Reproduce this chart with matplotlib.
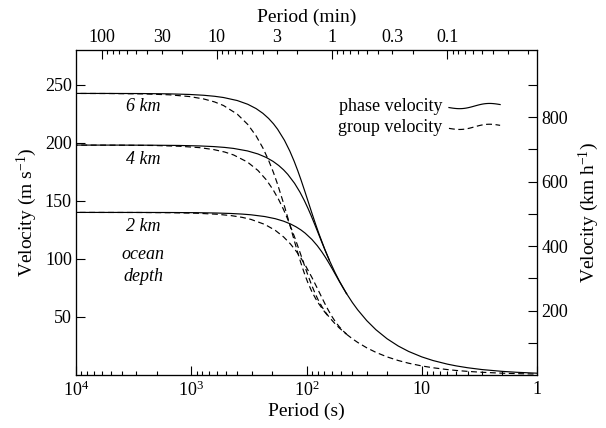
import numpy as np
import matplotlib
matplotlib.use("Agg")
import matplotlib.pyplot as plt
from matplotlib.ticker import FixedLocator, FixedFormatter, NullFormatter, FuncFormatter, LogLocator

plt.rcParams['font.family'] = ['Liberation Serif', 'DejaVu Serif']
plt.rcParams['mathtext.fontset'] = 'custom'
plt.rcParams['mathtext.rm'] = 'Liberation Serif'
plt.rcParams['mathtext.it'] = 'Liberation Serif:italic'
plt.rcParams['mathtext.bf'] = 'Liberation Serif:bold'

# ---------------- data (period in s, velocity in m/s) ----------------
period_2km = [11214, 2991, 1496, 898.6, 600.3, 451.5, 362.6, 303.5, 230.1, 186.6, 158.0, 137.9,
              123.1, 111.7, 102.8, 89.70, 80.58, 73.88, 68.72, 64.61, 59.75, 55.95, 51.92, 48.00, 44.87]
phase_2km = [140.07, 140.05, 139.99, 139.84, 139.55, 139.15, 138.64, 138.03, 136.51, 134.66, 132.52, 130.15,
             127.61, 124.96, 122.24, 116.75, 111.39, 106.31, 101.59, 97.25, 91.44, 86.39, 80.67, 74.80, 70.01]
group_2km = [140.07, 140.01, 139.82, 139.38, 138.51, 137.33, 135.84, 134.06, 129.74, 124.62, 118.94, 112.92,
             106.78, 100.71, 94.82, 84.00, 74.73, 67.05, 60.79, 55.75, 49.95, 45.67, 41.54, 37.88, 35.19]

period_4km = [15859, 4229.9, 2115.9, 1270.9, 849.0, 638.6, 512.7, 429.2, 325.5, 263.9, 223.5, 195.1,
              174.1, 158.0, 145.4, 126.85, 113.96, 104.48, 97.19, 91.37, 84.50, 79.12, 73.43, 67.88,
              63.46, 56.74, 51.80, 45.0]
phase_4km = [198.09, 198.06, 197.97, 197.76, 197.35, 196.79, 196.07, 195.20, 193.06, 190.44, 187.41, 184.06,
             180.47, 176.72, 172.87, 165.11, 157.53, 150.35, 143.67, 137.53, 129.31, 122.18, 114.09, 105.79,
             99.01, 88.58, 80.87, 70.26]
group_4km = [198.09, 198.00, 197.73, 197.10, 195.89, 194.21, 192.10, 189.58, 183.48, 176.24, 168.20, 159.69,
             151.01, 142.42, 134.10, 118.80, 105.69, 94.82, 85.98, 78.84, 70.63, 64.59, 58.74, 53.57,
             49.77, 44.33, 40.44, 35.13]

period_6km = [19424, 5180.5, 2591.4, 1556.5, 1039.8, 782.1, 628.0, 525.6, 398.6, 323.3, 273.7, 238.9,
              213.2, 193.5, 178.1, 155.36, 139.57, 127.96, 119.03, 111.91, 103.50, 96.90, 89.94, 83.13,
              77.72, 69.50, 63.44]
phase_6km = [242.61, 242.57, 242.47, 242.21, 241.71, 241.01, 240.13, 239.07, 236.45, 233.24, 229.53, 225.43,
             221.03, 216.44, 211.73, 202.21, 192.93, 184.14, 175.96, 168.44, 158.37, 149.63, 139.72, 129.56,
             121.26, 108.49, 99.04]
group_6km = [242.61, 242.50, 242.18, 241.41, 239.92, 237.86, 235.27, 232.19, 224.72, 215.85, 206.00, 195.58,
             184.95, 174.43, 164.24, 145.50, 129.44, 116.13, 105.30, 96.56, 86.51, 79.11, 71.94, 65.61,
             60.96, 54.29, 49.53]

# deep-water branch shared by all depths
period_deep = [45, 40, 36, 30, 25, 20, 16, 13, 10, 8, 6, 5, 4, 3, 2, 1.5, 1]
phase_deep = [70.26, 62.45, 56.21, 46.84, 39.03, 31.23, 24.98, 20.30, 15.61, 12.49, 9.37, 7.81, 6.25,
              4.68, 3.12, 2.34, 1.56]
group_deep = [35.13, 31.23, 28.10, 23.42, 19.52, 15.61, 12.49, 10.15, 7.81, 6.25, 4.68, 3.90, 3.12,
              2.34, 1.56, 1.17, 0.78]

x_ticks = [1e4, 1e3, 1e2, 10, 1]
x_tick_labels = ['$10^4$', '$10^3$', '$10^2$', '10', '1']
top_major = [100, 10, 1, 0.1]
top_major_labels = ['100', '10', '1', '0.1']
top_minor_labeled = {30: '30', 3: '3', 0.3: '0.3'}
y_ticks = [50, 100, 150, 200, 250]
y_right_major = [200, 400, 600, 800]
y_right_minor = [100, 300, 500, 700, 900]

depth_labels = ['6 km', '4 km', '2 km', 'ocean', 'depth']
depth_label_y = [231, 186, 128, 104, 85]

# ---------------- figure ----------------
fig = plt.figure(figsize=(6.06, 4.28), dpi=100)
W, H = 606, 428
L, R, T, B = 76, 537, 50, 375
ax = fig.add_axes([L / W, 1 - B / H, (R - L) / W, (B - T) / H])
ax.set_xscale('log')
ax.set_xlim(1e4, 1)
ax.set_ylim(0, 280)

lw = 0.85
solid = dict(color='black', lw=lw, ls='-')
dashed = dict(color='black', lw=lw, ls=(0, (5, 3)))

for Tp, c, g in [(period_6km, phase_6km, group_6km),
                 (period_4km, phase_4km, group_4km),
                 (period_2km, phase_2km, group_2km)]:
    ax.plot(Tp, c, **solid)
    ax.plot(Tp, g, **dashed)
ax.plot(period_deep, phase_deep, **solid)
ax.plot(period_deep, group_deep, **dashed)

# bottom axis
ax.xaxis.set_major_locator(FixedLocator(x_ticks))
ax.xaxis.set_major_formatter(FixedFormatter(x_tick_labels))
ax.xaxis.set_minor_locator(LogLocator(base=10, subs=range(2, 10), numticks=20))
ax.xaxis.set_minor_formatter(NullFormatter())
ax.tick_params(axis='x', which='major', direction='in', length=6.5, width=0.8, labelsize=13, pad=4)
ax.tick_params(axis='x', which='minor', direction='in', length=3, width=0.8)
ax.set_yticks(y_ticks)
ax.tick_params(axis='y', which='major', direction='in', length=6.5, width=0.8, labelsize=13, pad=3)
ax.set_xlabel('Period (s)', fontsize=14, labelpad=2)
ax.set_ylabel('Velocity (m s$^{-1}$)', fontsize=14, labelpad=4)

# top axis (minutes)
ax2 = ax.twiny()
ax2.set_xscale('log')
ax2.set_xlim(1e4 / 60, 1 / 60)
ax2.xaxis.set_major_locator(FixedLocator(top_major))
ax2.xaxis.set_major_formatter(FixedFormatter(top_major_labels))
ax2.xaxis.set_minor_locator(LogLocator(base=10, subs=range(2, 10), numticks=20))


def minor_fmt(v, pos):
    for key, lab in top_minor_labeled.items():
        if abs(v - key) / key < 1e-6:
            return lab
    return ''


ax2.xaxis.set_minor_formatter(FuncFormatter(minor_fmt))
ax2.tick_params(axis='x', which='major', direction='in', length=6.5, width=0.8, labelsize=13, pad=3)
ax2.tick_params(axis='x', which='minor', direction='in', length=3, width=0.8, labelsize=13, pad=3)
ax2.set_xlabel('Period (min)', fontsize=14, labelpad=5)

# right axis (km/h)
ax3 = ax.twinx()
ax3.set_ylim(0, 280 * 3.6)
ax3.yaxis.set_major_locator(FixedLocator(y_right_major))
ax3.yaxis.set_minor_locator(FixedLocator(y_right_minor))
ax3.yaxis.set_minor_formatter(NullFormatter())
ax3.tick_params(axis='y', which='both', direction='in', length=6.5, width=0.8, labelsize=13, pad=3)
ax3.set_ylabel('Velocity (km h$^{-1}$)', fontsize=14, labelpad=6)

for a in (ax, ax2, ax3):
    for s in a.spines.values():
        s.set_linewidth(0.8)

# depth annotations
for lab, yv in zip(depth_labels, depth_label_y):
    ax.text(2600, yv, lab, style='italic', ha='center', va='center', fontsize=13)

# legend
ax_h = B - T
leg_y = [0.826, 0.762]
leg_txt = ['phase velocity', 'group velocity']
leg_sty = [solid, dashed]
t = np.linspace(0, 1, 60)
for yy, txt, sty in zip(leg_y, leg_txt, leg_sty):
    ax.text(0.794, yy, txt, transform=ax.transAxes, ha='right', va='center', fontsize=13)
    xs = 0.809 + t * 0.111
    ys = yy + (-1.8 * np.sin(2 * np.pi * t) + 3 * t - 1.0) / ax_h
    ax.plot(xs, ys, transform=ax.transAxes, clip_on=False, **sty)

fig.savefig('out.png', dpi=100)
